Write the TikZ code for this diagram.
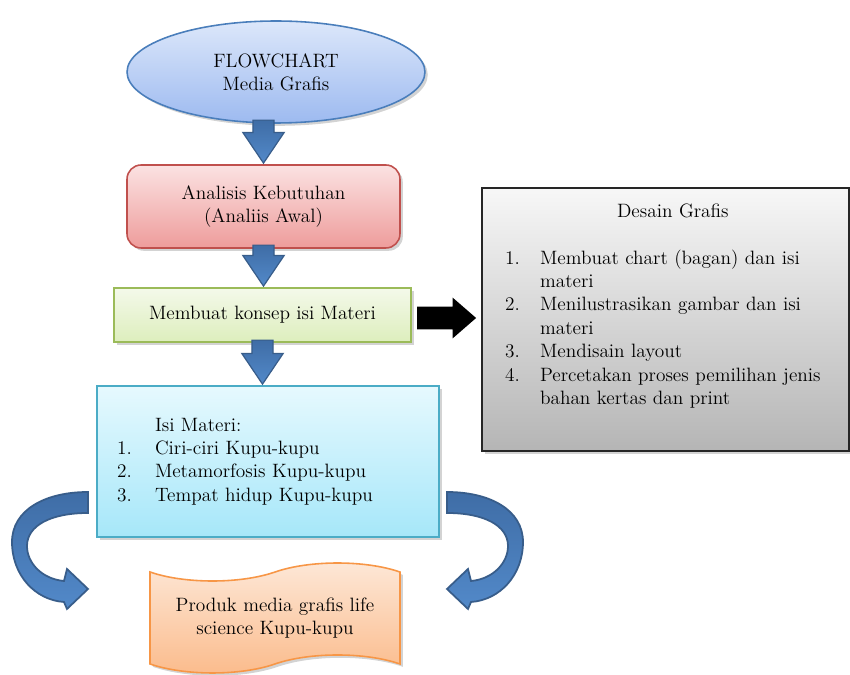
\documentclass[tikz,border=0pt]{standalone}
\usetikzlibrary{shapes.geometric,shapes.arrows,shapes.symbols,shadows,calc,positioning}
\definecolor{eltop}{HTML}{DCE7FA}\definecolor{elbot}{HTML}{9DBAF0}\definecolor{elline}{HTML}{4A7EBB}
\definecolor{aktop}{HTML}{FBE2E2}\definecolor{akbot}{HTML}{EE9C9B}\definecolor{akline}{HTML}{C0504D}
\definecolor{mktop}{HTML}{F4F9EA}\definecolor{mkbot}{HTML}{DDEEBD}\definecolor{mkline}{HTML}{9BBB59}
\definecolor{imtop}{HTML}{E6F9FE}\definecolor{imbot}{HTML}{A6E7F9}\definecolor{imline}{HTML}{4BACC6}
\definecolor{dgtop}{HTML}{F7F7F7}\definecolor{dgbot}{HTML}{B5B5B5}\definecolor{dgline}{HTML}{262626}
\definecolor{prtop}{HTML}{FDE8D8}\definecolor{prbot}{HTML}{FBBB8B}\definecolor{prline}{HTML}{F79646}
\definecolor{arrtop}{HTML}{3F6DA6}\definecolor{arrbot}{HTML}{5289C9}\definecolor{arrline}{HTML}{385D8A}

\begin{document}
\begin{tikzpicture}[x=0.02cm, y=-0.02cm, every node/.append style={font=\fontsize{11}{13.3}\selectfont},
  sh/.style={drop shadow={opacity=0.35, shadow xshift=1.6pt, shadow yshift=-1.6pt}},
  b/.style={draw=#1, line width=0.9pt, sh, align=center},
  down/.style={single arrow, shape border rotate=270, anchor=tip, draw=arrline, line width=0.7pt, top color=arrtop, bottom color=arrbot, minimum width=0.8cm, single arrow head extend=0.2cm, single arrow tip angle=68, inner sep=0.2cm},
  turn/.pic={\path[draw=arrline, line width=1pt, top color=arrtop, bottom color=arrbot] (88,492) .. controls (45,492) and (12,510) .. (12,542) .. controls (12,575) and (35,600) .. (64,602) -- (67,609) -- (88,589) -- (67,569) -- (64,581) .. controls (42,579) and (27,563) .. (27,546) .. controls (27,526) and (50,513) .. (88,513) -- cycle;}]
\useasboundingbox (0,0) rectangle (850,675);
\node[ellipse, b=elline, top color=eltop, bottom color=elbot, minimum width=5.96cm, minimum height=2.04cm] (fc) at (276,72) {FLOWCHART\\Media Grafis};
\node[b=akline, rounded corners=8pt, top color=aktop, bottom color=akbot, minimum width=5.46cm, minimum height=1.66cm] (ak) at (263.5,206.5) {Analisis Kebutuhan\\(Analiis Awal)};
\node[b=mkline, top color=mktop, bottom color=mkbot, minimum width=5.94cm, minimum height=1.08cm] (mk) at (262.5,315) {Membuat konsep isi Materi};
\node[b=imline, top color=imtop, bottom color=imbot, minimum width=6.84cm, minimum height=3.02cm, inner xsep=0.4cm, text width=6.04cm, align=left] (im) at (268,461.5) {\begin{tabular}{@{}p{0.76cm}@{}l@{}} & Isi Materi:\\ 1. & Ciri-ciri Kupu-kupu\\ 2. & Metamorfosis Kupu-kupu\\ 3. & Tempat hidup Kupu-kupu\end{tabular}};
\node[b=dgline, line width=1.4pt, top color=dgtop, bottom color=dgbot, minimum width=7.34cm, minimum height=5.26cm, inner xsep=0.46cm, text width=6.42cm, align=left] (dg) at (665.5,319.5) {\begin{tabular}{@{}p{0.7cm}@{}l@{}} \multicolumn{2}{c}{\hspace{0.4cm}Desain Grafis}\\ & \\ 1. & Membuat chart (bagan) dan isi\\ & materi\\ 2. & Menilustrasikan gambar dan isi\\ & materi\\ 3. & Mendisain layout\\ 4. & Percetakan proses pemilihan jenis\\ & bahan kertas dan print\\[15pt]\end{tabular}};
\node[tape, b=prline, top color=prtop, bottom color=prbot, minimum width=5.0cm, minimum height=2.2cm, tape bend height=0.36cm] (pr) at (275,618) {Produk media grafis life\\science Kupu-kupu};
\node[down, minimum height=0.86cm] (a1) at (ak.north) {};
\node[down, minimum height=0.82cm] (a2) at (ak.south|-mk.north) {};
\node[down, minimum height=0.88cm] (a3) at (mk.south|-im.north) {};
\node[single arrow, anchor=tail, fill=black, minimum width=0.8cm, minimum height=1.18cm, single arrow head extend=0.18cm, single arrow tip angle=82, inner sep=0.22cm] (a4) at ($(mk.east)+(5,3)$) {};
\pic at (0,0) {turn}; \pic[xscale=-1] at (535,0) {turn};
\end{tikzpicture}
\end{document}
